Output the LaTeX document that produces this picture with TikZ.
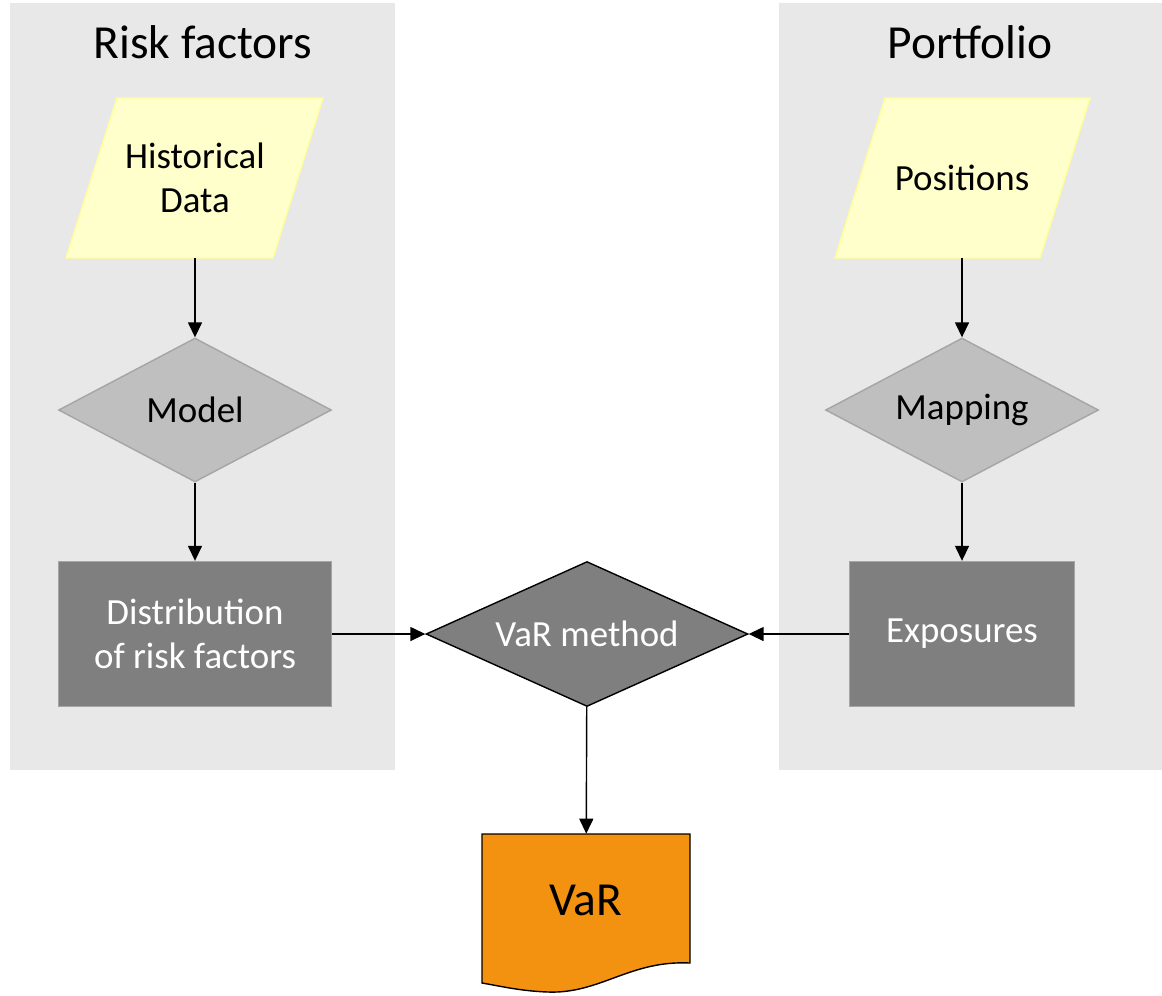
\documentclass[tikz,border=0pt]{standalone}
\usepackage{fontspec}
\setmainfont{Carlito}
\usetikzlibrary{shapes.geometric,arrows.meta}
\definecolor{panelgrey}{HTML}{E8E8E8}
\definecolor{yellowfill}{HTML}{FFFFCC}
\definecolor{yellowline}{HTML}{FFFF99}
\definecolor{lightgrey}{HTML}{BFBFBF}
\definecolor{darkgrey}{HTML}{7F7F7F}
\definecolor{edgegrey}{HTML}{A5A5A5}
\definecolor{varorange}{HTML}{F39210}

\begin{document}
\begin{tikzpicture}[x=0.02cm,y=-0.02cm,
title/.style={font=\fontsize{27}{30}\selectfont},
datashape/.style={draw=yellowline, fill=yellowfill, thick},
datanode/.style={rectangle, minimum width=5.14cm, minimum height=3.2cm, inner sep=0pt, align=center, font=\fontsize{21}{25}\selectfont},
decision/.style={diamond, aspect=2.2, draw=edgegrey, fill=lightgrey, thick, minimum width=5.46cm, minimum height=2.88cm, inner sep=0pt, font=\fontsize{21}{25}\selectfont},
process/.style={rectangle, draw=edgegrey, fill=darkgrey, thick, minimum height=2.9cm, inner sep=0pt, align=center, text=white, font=\fontsize{21}{25}\selectfont},
arrow/.style={-{Triangle[length=0.3cm,width=0.28cm]}, thick}
]
    \useasboundingbox (0,0) rectangle (1162,995);

    \fill [panelgrey] (10,3) rectangle (395,770);
    \fill [panelgrey] (779,3) rectangle (1162,770);

    \node [title] (risktitle) at (203,42) {Risk factors};
    \node [title] (porttitle) at (970,42) {Portfolio};

    \path [datashape] (117,98) -- (323,98) -- (273,258) -- (66,258) -- cycle;
    \node [datanode] (hist) at (195,178) {Historical\\Data};
    \node [decision] (model) at (195,410) {Model};
    \node [process, minimum width=5.46cm] (distr) at (195,634) {Distribution\\of risk factors};

    \path [datashape] (885,98) -- (1090,98) -- (1040,258) -- (835,258) -- cycle;
    \node [datanode] (pos) at (962,178) {Positions};
    \node [decision] (mapping) at (962,410) {Mapping};
    \node [process, minimum width=4.5cm] (expo) at (962,634) {Exposures};

    \node [decision, draw=black, fill=darkgrey, text=white, minimum width=6.44cm, minimum height=2.9cm] (varmethod) at (587,634) {VaR method};

    \path [fill=varorange, draw=black, thick] (482,834) -- (690,834) -- (690,963) .. controls (630,960) and (600,994) .. (548,992) .. controls (520,991) and (500,986) .. (482,983) -- cycle;
    \node [minimum width=4.16cm, minimum height=2.64cm, inner sep=0pt, font=\fontsize{27}{30}\selectfont] (var) at (586,900) {VaR};

    \draw [arrow] (hist) -- (model);
    \draw [arrow] (model) -- (distr);
    \draw [arrow] (pos) -- (mapping);
    \draw [arrow] (mapping) -- (expo);
    \draw [arrow] (distr) -- (varmethod);
    \draw [arrow] (expo) -- (varmethod);
    \draw [arrow] (varmethod) -- (var);

\end{tikzpicture}
\end{document}
